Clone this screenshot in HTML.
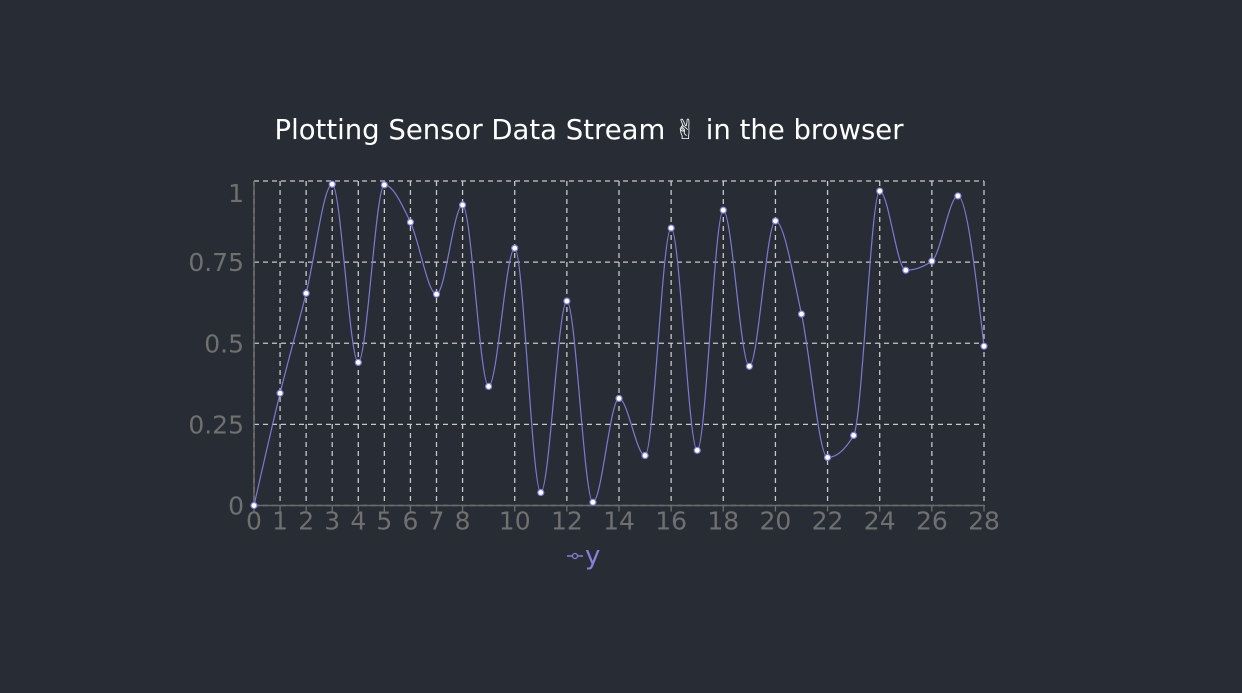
<!DOCTYPE html>
<html><head><meta charset="utf-8"><style>
html,body{margin:0;padding:0;background:#282c35;}
svg{display:block;font-family:"DejaVu Sans","Liberation Sans",sans-serif;}
</style></head><body>
<svg id="chart" width="1242" height="693">
<rect width="1242" height="693" fill="#282c35"/>
<text x="589" y="139" text-anchor="middle" font-size="27.5" fill="#ffffff">Plotting Sensor Data Stream ✌ in the browser</text>
<g id="grid"></g><g id="axes"></g><g id="series"></g>
<g>
<line x1="567" y1="556" x2="583" y2="556" stroke="#8582d8" stroke-width="1.5"/>
<circle cx="575" cy="556" r="2.5" fill="#282c35" stroke="#8582d8" stroke-width="1.2"/>
<text x="585" y="564" font-size="26" fill="#8582d8">y</text>
</g>
</svg>
<script>
const xValues=[0,1,2,3,4,5,6,7,8,9,10,11,12,13,14,15,16,17,18,19,20,21,22,23,24,25,26,27,28];
const yValues=[0,0.346,0.654,0.99,0.441,0.988,0.873,0.651,0.926,0.367,0.793,0.04,0.63,0.01,0.33,0.154,0.855,0.17,0.91,0.429,0.877,0.59,0.148,0.216,0.969,0.725,0.753,0.954,0.491];
const xTicks=[0,1,2,3,4,5,6,7,8,10,12,14,16,18,20,22,24,26,28];
const yTicks=[0,0.25,0.5,0.75,1];
const yTickLabels=["0","0.25","0.5","0.75","1"];
const NS="http://www.w3.org/2000/svg";
const X0=254,X1=984,Y0=505.5,Y1=181;
const sx=v=>X0+(v-0)/(28-0)*(X1-X0);
const sy=v=>Y0-(v-0)/(1-0)*(Y0-Y1);
function mk(tag,attrs,parent){const e=document.createElementNS(NS,tag);for(const k in attrs)e.setAttribute(k,attrs[k]);parent.appendChild(e);return e;}
const grid=document.getElementById('grid'),axes=document.getElementById('axes'),series=document.getElementById('series');
yTicks.forEach((t,i)=>{
 const l=mk('line',{x1:X0,x2:X1,y1:sy(t),y2:sy(t),stroke:'#c8c8c8','stroke-dasharray':'5,4','stroke-width':1.3},grid);
 
 
 const by=Math.max(sy(t)+9,Y1+21);
 const tx=mk('text',{x:X0-10,y:by,'text-anchor':'end','font-size':25,fill:'#707070'},axes);
 tx.textContent=yTickLabels[i];
 
 
});
xTicks.forEach(t=>{
 const l=mk('line',{x1:sx(t),x2:sx(t),y1:Y1,y2:Y0,stroke:'#c8c8c8','stroke-dasharray':'5,4','stroke-width':1.3},grid);
 
 
 const tk=mk('line',{x1:sx(t),x2:sx(t),y1:Y0,y2:Y0+6,stroke:'#707070','stroke-width':1.3},axes);
 
 
 const tx=mk('text',{x:sx(t),y:Y0+24,'text-anchor':'middle','font-size':25,fill:'#707070'},axes);
 tx.textContent=String(t);
 
 
});
const ax=mk('path',{d:`M${X0},${Y1} V${Y0} H${X1}`,fill:'none',stroke:'#6a6a6a','stroke-width':1.5},axes);


const P=xValues.map((x,i)=>[sx(x),sy(yValues[i])]);
const n=P.length,dx=[],sl=[],m=[];
for(let i=0;i<n-1;i++){dx[i]=P[i+1][0]-P[i][0];sl[i]=(P[i+1][1]-P[i][1])/dx[i];}
for(let i=1;i<n-1;i++){
 const s0=sl[i-1],s1=sl[i];
 if(s0*s1<=0)m[i]=0;
 else{const p=(s0*dx[i]+s1*dx[i-1])/(dx[i-1]+dx[i]);m[i]=(Math.sign(s0)+Math.sign(s1))*Math.min(Math.abs(s0),Math.abs(s1),0.5*Math.abs(p));}
}
m[0]=(3*sl[0]-m[1])/2;m[n-1]=(3*sl[n-2]-m[n-2])/2;
let d=`M${P[0][0]},${P[0][1]}`;
for(let i=0;i<n-1;i++){
 const h=dx[i]/3;
 d+=` C${P[i][0]+h},${P[i][1]+h*m[i]} ${P[i+1][0]-h},${P[i+1][1]-h*m[i+1]} ${P[i+1][0]},${P[i+1][1]}`;
}
const line=mk('path',{d:d,fill:'none',stroke:'#7d7ad0','stroke-width':1.2},series);


P.forEach(p=>{
 const c=mk('circle',{cx:p[0],cy:p[1],r:3,fill:'#ffffff',stroke:'#8582d8','stroke-width':1.2},series);
 
 
});
</script>
</body></html>
